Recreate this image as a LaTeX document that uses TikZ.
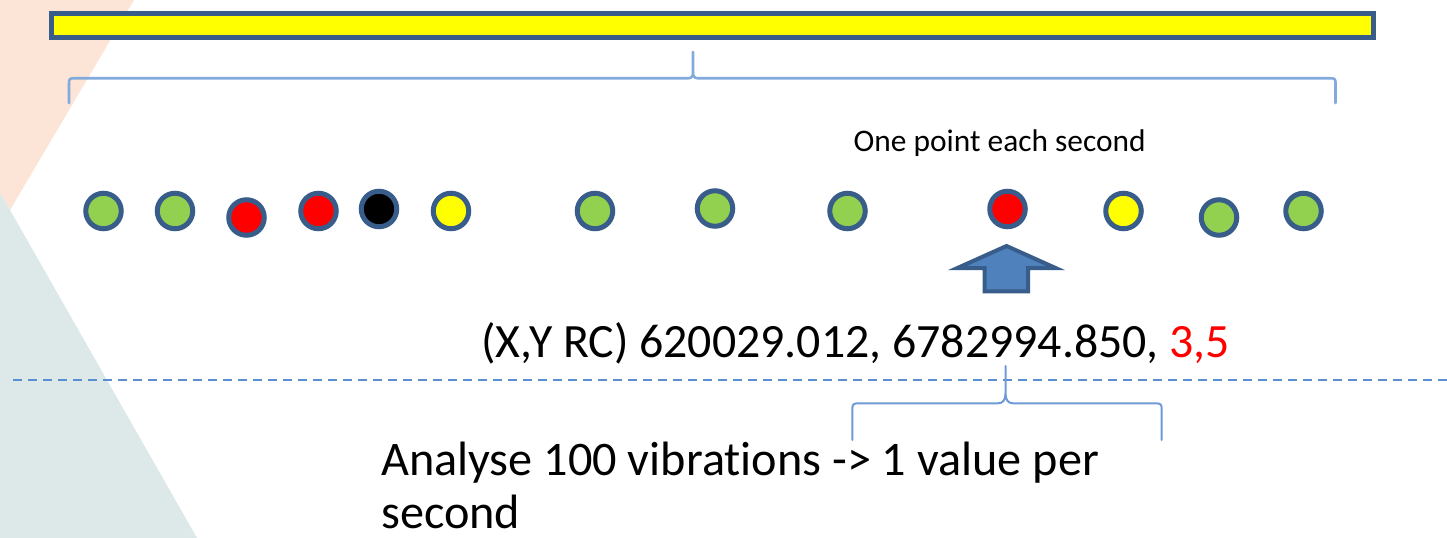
\documentclass[tikz,border=0pt]{standalone}
\usepackage{fontspec}
\setmainfont{Carlito}[Ligatures=NoCommon]
\definecolor{peach}{RGB}{252,228,214}
\definecolor{teal}{RGB}{221,233,232}
\definecolor{rim}{RGB}{56,93,138}
\definecolor{dotgreen}{RGB}{146,208,80}
\definecolor{dotred}{RGB}{255,0,0}
\definecolor{dotyellow}{RGB}{255,255,0}
\definecolor{arrowfill}{RGB}{79,129,189}
\definecolor{bracecol}{RGB}{110,155,215}
\definecolor{dashcol}{RGB}{91,143,208}
\tikzset{
  dot/.style={circle, draw=rim, line width=5bp, minimum size=35.5bp, inner sep=0pt},
  bracestyle/.style={draw=bracecol, line width=2bp, line cap=round, line join=round},
  label/.style={inner sep=0pt, anchor=base west, text=black},
}
\begin{document}
\begin{tikzpicture}[x=1bp,y=-1bp]
\useasboundingbox (0,0) rectangle (1447,538);
\fill[white] (0,0) rectangle (1447,538);
% background shapes
\fill[peach] (0,0) -- (134,0) -- (10,210) -- (0,193) -- cycle;
\fill[teal] (0,193) -- (10,210) -- (197,538) -- (0,538) -- cycle;
% yellow bar
\node[draw=rim, fill=dotyellow, line width=5bp, minimum width=1322bp, minimum height=24bp, inner sep=0pt, anchor=north west] (bar) at (48.5,10.8) {};
% upper brace
\coordinate (ubl) at (69,103);
\coordinate (ubr) at (1335.5,103);
\coordinate (ubt) at (693,52);
\draw[bracestyle, color={rgb,255:red,130;green,170;blue,220}, line width=2.6bp]
  (ubl) -- (69,83) .. controls (69,79) and (70,78.3) .. (74,78.3) -- (688,78.3)
  .. controls (692,78.3) and (693,76) .. (693,72) -- (ubt)
  -- (693,72) .. controls (693,76) and (694,78.3) .. (698,78.3) -- (1330.5,78.3)
  .. controls (1334.5,78.3) and (1335.5,79) .. (1335.5,83) -- (ubr);
% dots
\node[dot, fill=dotgreen]  (d1)  at (103.5,211) {};
\node[dot, fill=dotgreen]  (d2)  at (175,211) {};
\node[dot, fill=dotred]    (d3)  at (246.5,217.5) {};
\node[dot, fill=dotred]    (d4)  at (318.5,211) {};
\node[dot, fill=black]     (d5)  at (379,209) {};
\node[dot, fill=dotyellow] (d6)  at (451,211) {};
\node[dot, fill=dotgreen]  (d7)  at (595,211) {};
\node[dot, fill=dotgreen]  (d8)  at (715,208.5) {};
\node[dot, fill=dotgreen]  (d9)  at (847.5,211) {};
\node[dot, fill=dotred]    (d10) at (1007.5,209) {};
\node[dot, fill=dotyellow] (d11) at (1123.5,211) {};
\node[dot, fill=dotgreen]  (d12) at (1219,217.5) {};
\node[dot, fill=dotgreen]  (d13) at (1303.5,211) {};
% label above
\node[label, font=\fontsize{31.5}{38}\selectfont] (onept) at (853.5,151.5) {One point each second};
% up arrow
\draw[fill=arrowfill, draw=rim, line width=4bp, line join=miter]
  (1006.5,246) -- (1055.5,268) -- (1028,268) -- (1028,291.3) -- (984.7,291.3) -- (984.7,268) -- (957.5,268) -- cycle;
% coordinate text
\node[label, font=\fontsize{48}{54}\selectfont] (coords) at (481,357) {(X,Y RC) 620029.012, 6782994.850, \textcolor{dotred}{3,5}};
% dashed line
\coordinate (dl) at (13,380);
\coordinate (dr) at (1447,380);
\draw[draw=dashcol, line width=1.5bp, dash pattern=on 9bp off 6bp] (dl) -- (dr);
% lower brace
\coordinate (lbl) at (852.3,440);
\coordinate (lbr) at (1161.7,440);
\coordinate (lbt) at (1005.5,366);
\draw[bracestyle]
  (lbl) -- (852.3,409) .. controls (852.3,404.5) and (853.5,403.3) .. (858,403.3) -- (998,403.3)
  .. controls (1003,403.3) and (1005.5,400) .. (1005.5,393) -- (lbt)
  -- (1005.5,393) .. controls (1005.5,400) and (1008,403.3) .. (1013,403.3) -- (1156,403.3)
  .. controls (1160.5,403.3) and (1161.7,404.5) .. (1161.7,409) -- (lbr);
% bottom text
\node[label, font=\fontsize{48.4}{53}\selectfont] (an1) at (381,475) {Analyse 100 vibrations -> 1 value per};
\node[label, font=\fontsize{48.4}{53}\selectfont] (an2) at (381,528) {second};
\end{tikzpicture}
\end{document}
